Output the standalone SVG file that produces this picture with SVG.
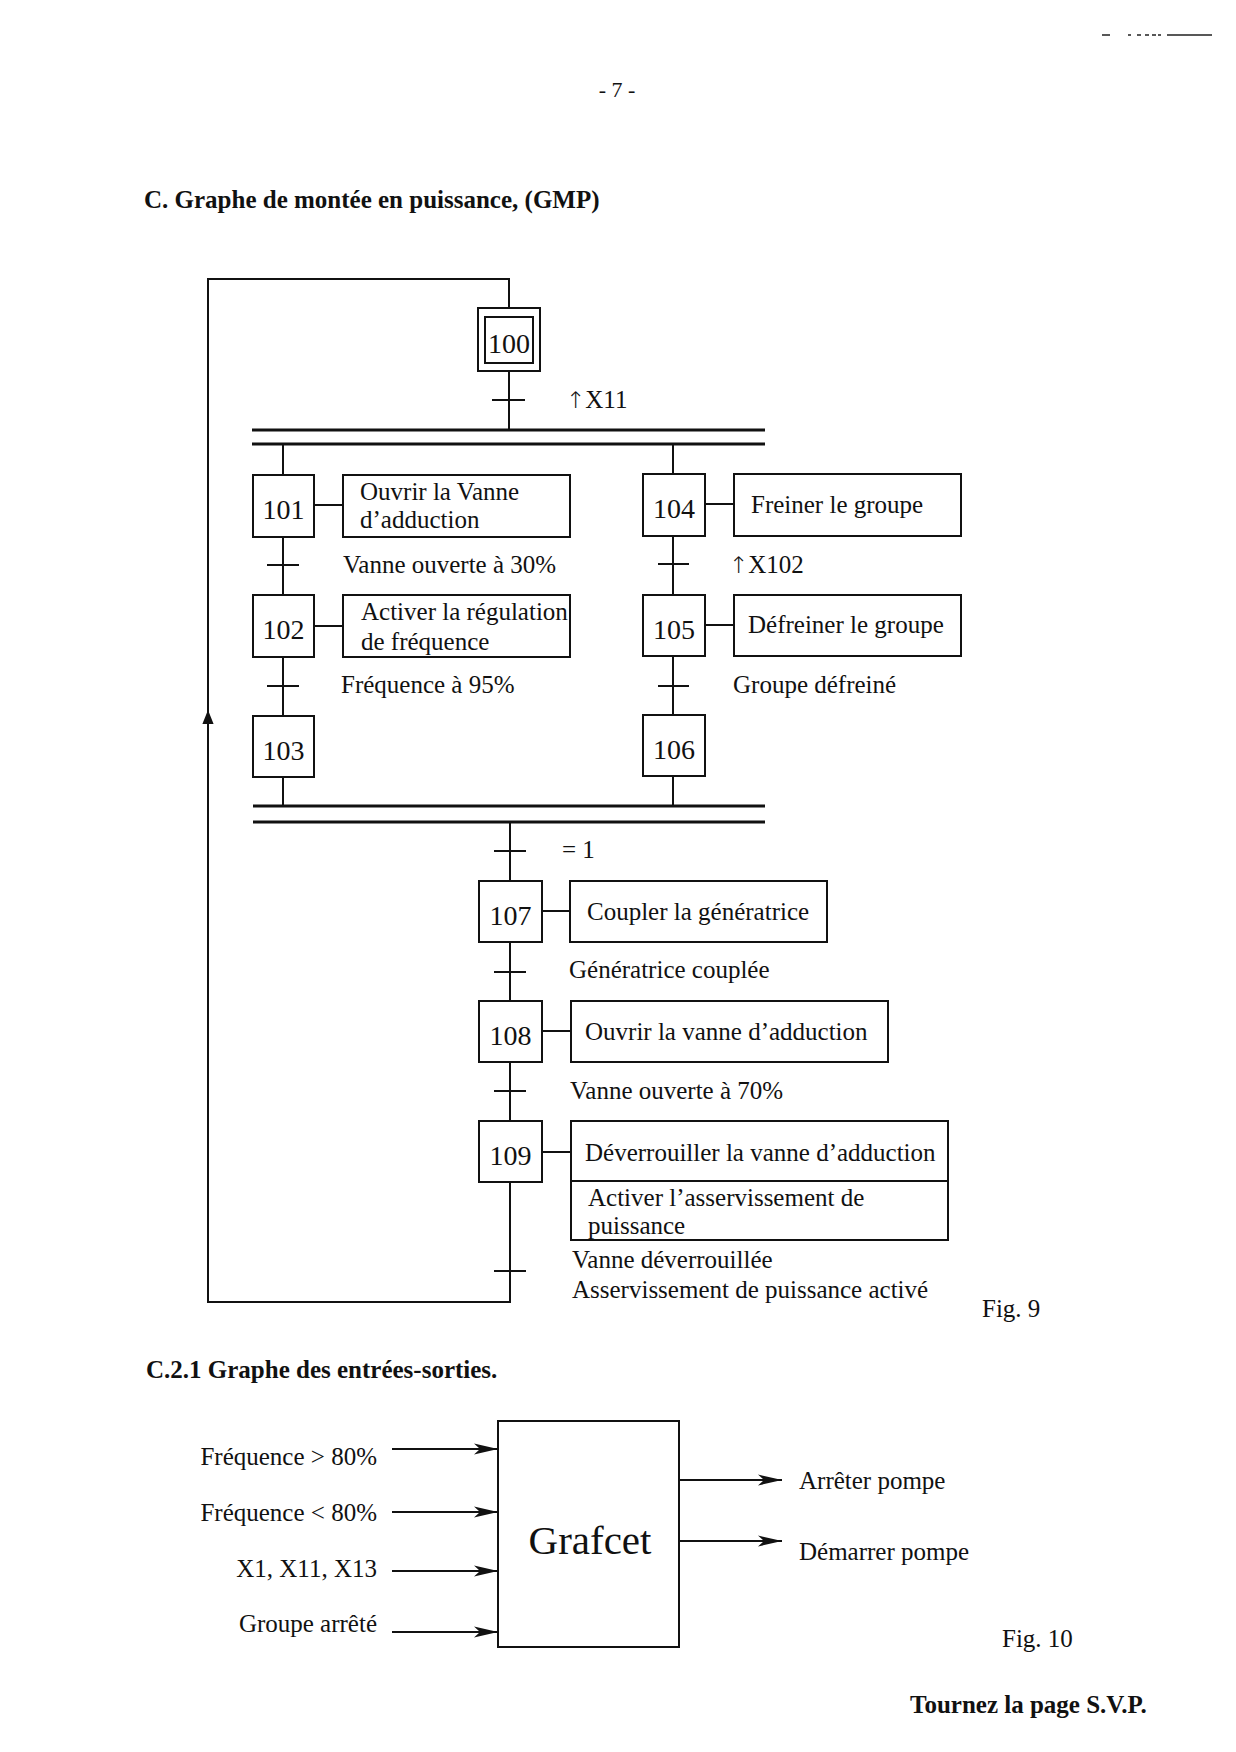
<svg xmlns="http://www.w3.org/2000/svg" width="1236" height="1752" viewBox="0 0 1236 1752">
<style>
text{font-family:"Liberation Serif","Times New Roman",serif;fill:#111}
.t{font-size:25px}
.n{font-size:28px;text-anchor:middle}
.b{font-weight:bold;font-size:25px}
.ar{font-family:"DejaVu Sans",sans-serif;font-size:23px;font-weight:200}
.box{fill:#fff;stroke:#111;stroke-width:2}
.ln{fill:none;stroke:#111;stroke-width:2}
.bar{fill:none;stroke:#111;stroke-width:3}
.tk{fill:none;stroke:#111;stroke-width:2}
</style>
<defs>
<marker id="ah" markerUnits="userSpaceOnUse" markerWidth="26" markerHeight="14" viewBox="-24 -7 26 14" refX="0" refY="0" orient="auto">
<path d="M-24,-5.5 L0,0 L-24,5.5 L-18,0 z" fill="#111"/>
</marker>
<marker id="up" markerUnits="userSpaceOnUse" markerWidth="16" markerHeight="16" viewBox="-15 -8 17 16" refX="0" refY="0" orient="auto">
<path d="M-15,-6 L0,0 L-15,6 z" fill="#111"/>
</marker>
</defs>
<rect width="1236" height="1752" fill="#fff"/>

<g id="header">
<path d="M1102,35 H1110 M1128,35 H1131 M1137,35 H1141 M1145,35 H1149 M1152,35 H1156 M1158,35 H1161 M1167,35 H1212" stroke="#222" stroke-width="1.5"/>
<text x="617" y="97" font-size="22" text-anchor="middle">- 7 -</text>
<text class="b" x="144" y="208">C. Graphe de montée en puissance, (GMP)</text>
</g>

<g id="connectors">
<path class="ln" d="M510,1182 V1302 H208 V710" marker-end="url(#up)"/>
<path class="ln" d="M208,712 V279 H509 V308"/>
<path class="ln" d="M509,371 V430"/>
<path class="tk" d="M492,400 H525"/>
<path class="bar" d="M252,430 H765 M252,444 H765"/>
<path class="ln" d="M283,444 V475 M283,537 V595 M283,657 V716 M283,777 V806"/>
<path class="tk" d="M267,565 H299 M267,686 H299"/>
<path class="ln" d="M673,444 V474 M673,536 V595 M673,656 V715 M673,776 V806"/>
<path class="tk" d="M658,564 H689 M658,686 H689"/>
<path class="bar" d="M253,806 H765 M253,822 H765"/>
<path class="ln" d="M510,822 V881 M510,942 V1001 M510,1062 V1121"/>
<path class="tk" d="M494,851 H526 M494,972 H526 M494,1091 H526 M494,1271 H526"/>
<path class="ln" d="M314,505 H343 M314,626 H343 M705,504 H734 M705,625 H734 M542,911 H570 M542,1031 H571 M542,1152 H571"/>
</g>

<g id="step100">
<rect class="box" x="478" y="308" width="62" height="63"/>
<rect class="box" x="485" y="317" width="48" height="46" stroke-width="3"/>
<text class="n" x="509" y="353">100</text>
</g>
<g id="tr100"><text class="t" x="566" y="408"><tspan class="ar">↑</tspan>X11</text></g>

<g id="step101">
<rect class="box" x="253" y="475" width="61" height="62"/>
<text class="n" x="283.5" y="519">101</text>
<rect class="box" x="343" y="475" width="227" height="62"/>
<text class="t" x="360" y="500">Ouvrir la Vanne</text>
<text class="t" x="360" y="528">d’adduction</text>
</g>
<g id="tr101"><text class="t" x="343" y="573">Vanne ouverte à 30%</text></g>

<g id="step102">
<rect class="box" x="253" y="595" width="61" height="62"/>
<text class="n" x="283.5" y="639">102</text>
<rect class="box" x="343" y="595" width="227" height="62"/>
<text class="t" x="361" y="620">Activer la régulation</text>
<text class="t" x="361" y="650">de fréquence</text>
</g>
<g id="tr102"><text class="t" x="341" y="693">Fréquence à 95%</text></g>

<g id="step103">
<rect class="box" x="253" y="716" width="61" height="61"/>
<text class="n" x="283.5" y="760">103</text>
</g>

<g id="step104">
<rect class="box" x="643" y="474" width="62" height="62"/>
<text class="n" x="674" y="518">104</text>
<rect class="box" x="734" y="474" width="227" height="62"/>
<text class="t" x="751" y="513">Freiner le groupe</text>
</g>
<g id="tr104"><text class="t" x="729" y="573"><tspan class="ar">↑</tspan>X102</text></g>

<g id="step105">
<rect class="box" x="643" y="595" width="62" height="61"/>
<text class="n" x="674" y="639">105</text>
<rect class="box" x="734" y="595" width="227" height="61"/>
<text class="t" x="748" y="633">Défreiner le groupe</text>
</g>
<g id="tr105"><text class="t" x="733" y="693">Groupe défreiné</text></g>

<g id="step106">
<rect class="box" x="643" y="715" width="62" height="61"/>
<text class="n" x="674" y="759">106</text>
</g>

<g id="trjoin"><text class="t" x="562" y="858">= 1</text></g>

<g id="step107">
<rect class="box" x="479" y="881" width="63" height="61"/>
<text class="n" x="510.5" y="925">107</text>
<rect class="box" x="570" y="881" width="257" height="61"/>
<text class="t" x="587" y="920">Coupler la génératrice</text>
</g>
<g id="tr107"><text class="t" x="569" y="978">Génératrice couplée</text></g>

<g id="step108">
<rect class="box" x="479" y="1001" width="63" height="61"/>
<text class="n" x="510.5" y="1045">108</text>
<rect class="box" x="571" y="1001" width="317" height="61"/>
<text class="t" x="585" y="1040">Ouvrir la vanne d’adduction</text>
</g>
<g id="tr108"><text class="t" x="570" y="1099">Vanne ouverte à 70%</text></g>

<g id="step109">
<rect class="box" x="479" y="1121" width="63" height="61"/>
<text class="n" x="510.5" y="1165">109</text>
<rect class="box" x="571" y="1121" width="377" height="119"/>
<path class="ln" d="M571,1181 H948"/>
<text class="t" x="585" y="1161">Déverrouiller la vanne d’adduction</text>
<text class="t" x="588" y="1206">Activer l’asservissement de</text>
<text class="t" x="588" y="1234">puissance</text>
</g>
<g id="tr109">
<text class="t" x="572" y="1268">Vanne déverrouillée</text>
<text class="t" x="572" y="1298">Asservissement de puissance activé</text>
</g>
<text class="t" x="982" y="1317">Fig. 9</text>

<text class="b" x="146" y="1378">C.2.1 Graphe des entrées-sorties.</text>

<g id="grafcet">
<rect class="box" x="498" y="1421" width="181" height="226"/>
<text x="590" y="1554" font-size="41" text-anchor="middle">Grafcet</text>
</g>
<g id="io-connectors">
<path class="ln" d="M392,1449 H498" marker-end="url(#ah)"/>
<path class="ln" d="M392,1512 H498" marker-end="url(#ah)"/>
<path class="ln" d="M392,1571 H498" marker-end="url(#ah)"/>
<path class="ln" d="M392,1632 H498" marker-end="url(#ah)"/>
<path class="ln" d="M679,1480 H782" marker-end="url(#ah)"/>
<path class="ln" d="M679,1541 H782" marker-end="url(#ah)"/>
</g>
<g id="inputs">
<text class="t" x="377" y="1465" text-anchor="end">Fréquence &gt; 80%</text>
<text class="t" x="377" y="1521" text-anchor="end">Fréquence &lt; 80%</text>
<text class="t" x="377" y="1577" text-anchor="end">X1, X11, X13</text>
<text class="t" x="377" y="1632" text-anchor="end">Groupe arrêté</text>
</g>
<g id="outputs">
<text class="t" x="799" y="1489">Arrêter pompe</text>
<text class="t" x="799" y="1560">Démarrer pompe</text>
</g>
<text class="t" x="1002" y="1647">Fig. 10</text>
<text class="b" x="910" y="1713" font-size="24.5">Tournez la page S.V.P.</text>
</svg>
